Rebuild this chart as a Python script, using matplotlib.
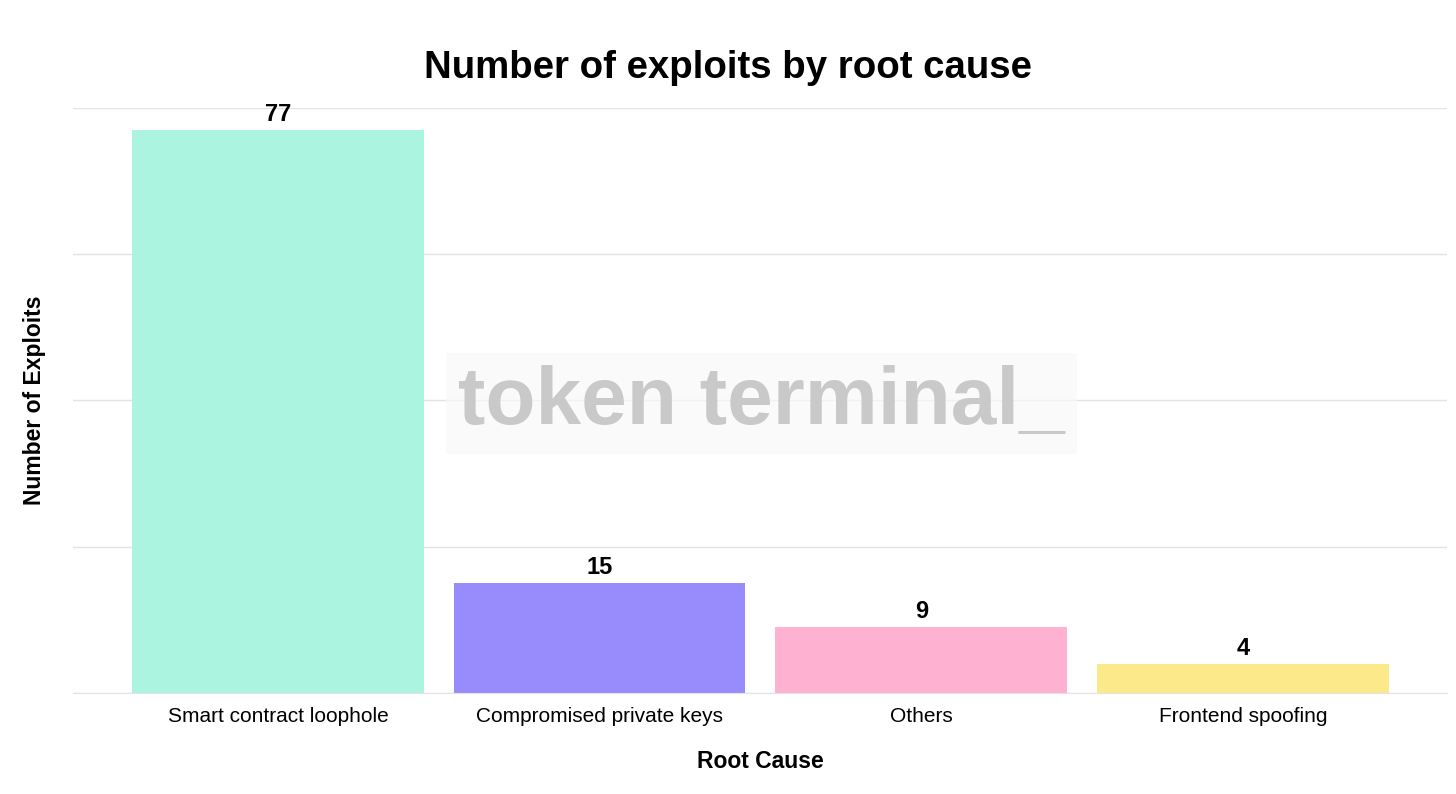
import matplotlib.pyplot as plt
from matplotlib.ticker import MultipleLocator

plt.rcParams['font.family'] = ['Liberation Sans', 'DejaVu Sans']

# chart data
causes = ["Smart contract loophole", "Compromised private keys", "Others", "Frontend spoofing"]
exploits = [77, 15, 9, 4]
bar_colors = ["#abf4e0", "#988cfd", "#feb1d1", "#fce98a"]

fig = plt.figure(figsize=(14.56, 7.94), dpi=100)
ax = fig.add_axes([0.0501, 0.1272, 0.9437, 0.7368])

x = range(len(causes))
bars = ax.bar(x, exploits, width=0.907, color=bar_colors, zorder=2)

# value labels on top of each bar
for b, v in zip(bars, exploits):
    ax.annotate(str(v), (b.get_x() + b.get_width() / 2, v), xytext=(0, 3),
                textcoords="offset points", ha="center", va="bottom",
                fontsize=17, fontweight="bold")

ax.set_xlim(-0.637, 3.634)
ax.set_ylim(0, 80)
ax.yaxis.set_major_locator(MultipleLocator(20))
ax.grid(axis="y", color="#e3e3e3", linewidth=1, zorder=0)
ax.set_yticklabels([])
ax.tick_params(axis="y", length=0)
ax.tick_params(axis="x", length=0, pad=10, labelsize=15)
ax.set_xticks(list(x))
ax.set_xticklabels(causes)
for s in ["top", "right", "left"]:
    ax.spines[s].set_visible(False)
ax.spines["bottom"].set_color("#e3e3e3")

ax.set_xlabel("Root Cause", fontsize=16.5, fontweight="bold", labelpad=17)
ax.set_ylabel("Number of Exploits", fontsize=16.5, fontweight="bold", labelpad=16)
fig.suptitle("Number of exploits by root cause", fontsize=27.6, fontweight="bold", y=0.937)

# watermark
fig.text(0.523, 0.492, "token terminal_", fontsize=59, color="#c9c9c9",
         fontweight="bold", ha="center", va="center", zorder=5,
         bbox=dict(facecolor="#f8f8f8", edgecolor="none", alpha=0.7, pad=9))

fig.savefig("out.png", dpi=100)
